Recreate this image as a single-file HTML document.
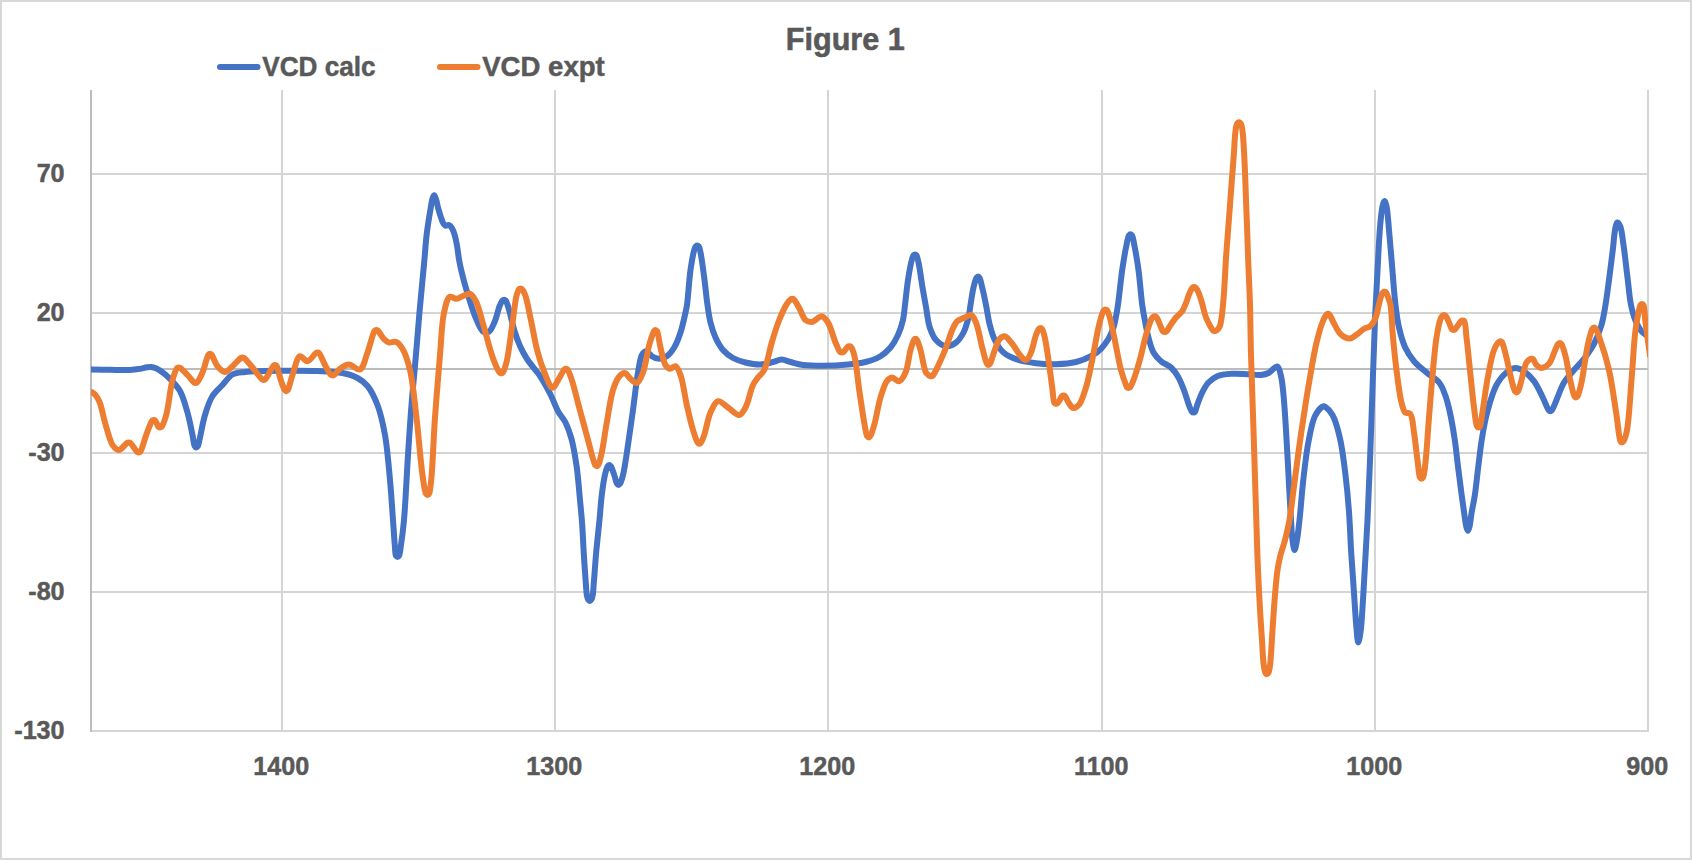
<!DOCTYPE html>
<html lang="en">
<head>
<meta charset="utf-8">
<title>Figure 1</title>
<style>
html,body{margin:0;padding:0;background:#fff;}
body{width:1692px;height:860px;overflow:hidden;position:relative;font-family:"Liberation Sans",sans-serif;}
#frame{position:absolute;left:0;top:0;width:1692px;height:860px;box-sizing:border-box;border:2px solid #d8d8d8;}
svg{position:absolute;left:0;top:0;display:block;}
svg text{font-family:"Liberation Sans",sans-serif;font-weight:bold;fill:#595959;}
</style>
</head>
<body>
<div id="frame"></div>
<svg width="1692" height="860" viewBox="0 0 1692 860">
<defs><clipPath id="plot"><rect x="91" y="80" width="1557" height="660"/></clipPath></defs>
<g stroke="#d5d5d5" stroke-width="2" fill="none" shape-rendering="crispEdges">
<line x1="282.00" y1="90" x2="282.00" y2="732" />
<line x1="555.00" y1="90" x2="555.00" y2="732" />
<line x1="828.00" y1="90" x2="828.00" y2="732" />
<line x1="1102.00" y1="90" x2="1102.00" y2="732" />
<line x1="1375.00" y1="90" x2="1375.00" y2="732" />
<line x1="1648.00" y1="90" x2="1648.00" y2="732" />
<line x1="90" y1="174.00" x2="1649" y2="174.00" />
<line x1="90" y1="313.00" x2="1649" y2="313.00" />
<line x1="90" y1="453.00" x2="1649" y2="453.00" />
<line x1="90" y1="592.00" x2="1649" y2="592.00" />
<line x1="90" y1="731.00" x2="1649" y2="731.00" />
</g>
<line x1="91" y1="90" x2="91" y2="732" stroke="#bcbcbc" stroke-width="2" shape-rendering="crispEdges"/>
<line x1="90" y1="369" x2="1648" y2="369" stroke="#bcbcbc" stroke-width="2" shape-rendering="crispEdges"/>
<g clip-path="url(#plot)" fill="none" stroke-width="6" stroke-linecap="round" stroke-linejoin="round">
<path stroke="#4472c4" d="M86.0 369.5C87.8 369.5 89.0 369.5 91.2 369.5C95.6 369.5 103.6 369.7 110.0 369.8C116.6 369.9 124.5 370.3 130.0 370.0C133.9 369.8 137.0 369.3 140.0 368.8C142.6 368.3 144.9 367.6 147.0 367.3C148.6 367.1 149.8 366.9 151.2 367.0C152.8 367.2 154.5 367.7 156.0 368.3C157.4 368.9 158.4 369.4 160.0 370.5C162.7 372.3 166.8 375.5 170.0 378.8C173.5 382.3 177.2 386.1 180.0 391.0C183.3 396.9 185.4 405.2 187.5 412.5C189.6 419.9 191.2 428.8 192.5 435.0C193.4 439.4 193.7 444.5 194.8 446.3C195.2 447.0 195.8 447.5 196.2 447.5C196.8 447.5 197.3 447.0 197.8 446.3C198.7 444.8 199.1 441.1 200.0 437.5C201.4 431.7 202.8 422.1 205.0 415.0C207.0 408.3 209.2 401.2 212.5 396.0C215.3 391.5 219.1 388.6 222.5 385.0C225.8 381.4 228.6 376.7 232.5 374.5C236.2 372.5 239.8 372.6 245.0 372.0C253.7 371.0 268.1 370.9 280.0 370.8C292.3 370.6 306.3 370.5 317.5 371.0C326.7 371.4 335.3 371.5 342.5 373.0C348.2 374.2 353.2 375.7 357.5 378.0C361.4 380.1 364.5 382.4 367.5 386.0C371.4 390.7 374.7 397.8 377.5 405.0C380.8 413.7 383.0 423.9 385.0 435.0C387.4 448.4 388.6 465.4 390.0 480.0C391.3 493.7 392.1 508.2 393.0 520.0C393.7 529.3 394.2 538.4 394.8 545.0C395.2 549.3 395.0 554.1 396.0 555.8C396.4 556.5 397.0 557.0 397.5 557.0C398.0 557.0 398.6 556.5 399.0 555.8C400.0 554.1 400.3 549.4 401.0 545.0C402.0 538.4 403.1 530.3 404.0 520.0C405.5 503.4 406.7 475.2 408.0 455.0C409.2 437.2 410.2 421.2 411.5 405.0C412.7 389.6 414.2 375.2 415.5 360.0C416.9 344.3 418.2 326.4 419.5 312.0C420.5 300.3 421.6 289.4 422.5 280.0C423.2 272.6 423.8 267.0 424.4 260.0C425.1 252.3 425.7 242.7 426.5 235.8C427.1 230.5 427.7 226.5 428.4 221.9C429.1 217.2 430.0 212.1 430.7 207.9C431.3 204.5 431.7 200.8 432.5 198.5C433.0 197.1 433.6 195.3 434.2 195.3C434.8 195.3 435.5 197.8 436.1 199.5C436.9 201.8 437.3 205.0 438.1 207.9C438.9 210.9 439.9 214.4 440.9 217.2C441.7 219.5 442.3 221.8 443.3 223.3C444.0 224.4 444.7 225.5 445.6 225.8C446.5 226.1 447.8 224.7 448.8 225.0C450.0 225.3 451.2 226.9 452.1 228.4C453.3 230.3 454.1 233.2 454.9 235.8C455.8 238.7 456.3 241.6 456.9 245.1C457.7 249.5 458.3 255.4 459.1 260.0C459.8 264.0 460.4 266.7 461.4 271.0C462.8 277.0 464.9 284.9 467.2 292.4C469.7 300.7 472.9 311.5 476.0 318.6C478.3 323.8 480.4 330.0 483.2 331.7C485.0 332.7 487.3 332.7 489.0 331.7C491.4 330.3 493.1 325.4 494.8 321.5C496.8 316.9 498.2 309.3 499.8 305.5C500.8 303.3 501.7 301.3 502.6 300.4C503.1 299.9 503.6 299.7 504.1 299.7C504.6 299.7 505.1 299.9 505.6 300.4C506.7 301.6 507.5 304.7 508.5 308.0C510.3 313.6 512.4 324.2 514.5 331.0C516.2 336.6 517.9 341.3 520.0 346.0C522.1 350.6 524.1 354.5 527.0 359.0C530.5 364.4 536.1 370.1 540.0 376.0C543.9 381.9 547.4 388.4 550.5 394.5C553.4 400.2 555.3 406.3 558.0 411.2C560.3 415.5 563.3 418.2 565.5 422.5C568.0 427.6 570.0 433.4 571.8 440.0C573.9 448.1 575.4 457.9 576.8 467.5C578.2 477.9 579.1 490.2 580.0 500.0C580.8 508.0 581.4 514.1 582.0 522.0C582.7 531.2 583.1 541.9 583.7 552.0C584.3 562.3 585.2 575.0 585.8 583.0C586.2 588.0 586.3 592.3 586.9 595.3C587.3 597.2 587.6 598.7 588.2 599.7C588.6 600.3 589.2 600.9 589.7 600.9C590.2 600.9 590.9 600.3 591.3 599.7C592.0 598.8 592.3 597.2 592.7 595.3C593.3 592.3 593.4 588.0 593.8 583.0C594.5 575.0 595.3 562.4 596.2 552.0C597.2 541.4 598.5 530.0 599.5 520.0C600.4 511.2 600.7 503.1 601.8 495.0C602.7 487.3 604.2 477.7 605.5 472.5C606.2 469.7 606.9 467.2 607.8 466.1C608.2 465.4 608.8 465.0 609.2 465.0C609.8 465.0 610.2 465.4 610.8 466.1C611.9 467.5 613.2 472.0 614.2 475.0C615.3 477.9 616.0 482.3 617.0 483.8C617.5 484.5 618.0 485.0 618.5 485.0C619.0 485.0 619.5 484.5 620.0 483.8C621.1 482.3 622.0 478.9 623.0 475.0C624.8 468.0 626.4 455.4 628.0 445.0C629.7 433.8 631.4 421.9 633.0 410.0C634.7 397.7 636.2 382.6 638.0 372.5C639.2 365.5 640.1 358.4 641.8 355.0C642.6 353.3 643.6 352.3 644.5 351.7C645.0 351.4 645.5 351.2 646.0 351.2C646.5 351.2 646.9 351.4 647.5 351.7C648.6 352.4 650.0 355.1 651.8 356.2C653.8 357.5 656.8 358.8 659.2 358.8C661.8 358.8 664.4 357.8 666.8 356.2C669.5 354.4 672.1 351.0 674.2 347.5C676.8 343.3 678.7 337.9 680.5 332.5C682.5 326.4 684.4 317.6 685.5 312.5C686.2 309.4 686.5 308.4 687.0 305.0C688.1 297.6 689.1 280.0 690.5 270.0C691.6 262.4 693.1 254.0 694.2 250.0C694.8 248.2 695.1 247.0 695.8 246.3C696.2 245.8 696.8 245.5 697.2 245.5C697.8 245.5 698.3 245.8 698.8 246.3C699.6 247.3 699.9 249.7 700.5 252.5C701.7 258.0 703.1 269.0 704.2 277.5C705.4 286.4 706.3 296.9 707.5 305.0C708.4 311.5 709.1 316.9 710.5 322.5C711.8 327.7 713.4 332.8 715.5 337.5C717.6 342.0 720.0 346.5 723.0 350.0C725.9 353.3 729.3 355.9 733.0 358.0C736.8 360.1 741.1 361.4 745.5 362.5C750.2 363.6 755.7 364.7 760.5 364.5C764.9 364.4 769.2 362.9 773.0 362.0C776.2 361.2 778.8 359.5 781.8 359.5C784.7 359.5 787.3 361.2 790.5 362.0C794.3 363.0 798.3 364.4 803.0 365.0C808.9 365.8 816.0 365.8 823.0 365.8C830.9 365.7 840.4 365.2 848.0 364.5C854.4 363.9 860.0 363.4 865.5 362.0C870.8 360.6 876.2 358.8 880.5 356.2C884.4 353.9 887.6 350.9 890.5 347.5C893.5 343.9 895.9 339.5 898.0 335.0C900.1 330.3 901.8 325.1 903.0 320.0C904.1 315.1 904.3 310.6 905.0 305.0C905.9 297.7 906.8 287.9 908.0 280.0C909.1 272.9 910.5 264.3 911.8 260.0C912.3 257.9 912.8 256.3 913.5 255.4C913.9 254.9 914.5 254.5 915.0 254.5C915.5 254.5 916.1 254.8 916.5 255.4C917.4 256.6 917.8 259.4 918.5 262.5C919.8 268.3 921.2 279.7 922.5 287.5C923.7 294.4 924.8 300.4 926.0 307.0C927.2 313.7 927.8 321.6 929.8 327.5C931.4 332.3 933.1 336.8 936.0 340.0C938.7 342.9 942.6 345.9 946.0 346.2C949.3 346.6 953.2 344.6 956.0 342.5C959.1 340.2 961.5 336.4 963.5 332.5C965.8 328.2 967.3 322.3 968.5 317.5C969.6 313.2 969.8 309.5 970.5 305.0C971.4 299.7 972.3 292.5 973.5 287.5C974.4 283.7 975.4 279.3 976.5 277.7C977.0 277.0 977.5 276.5 978.0 276.5C978.5 276.5 979.0 277.0 979.5 277.7C980.6 279.3 981.3 283.7 982.2 287.5C983.5 292.5 984.8 299.0 986.0 305.0C987.3 311.4 988.2 318.9 989.8 325.0C991.2 330.4 992.4 335.4 994.8 340.0C997.0 344.5 999.7 349.2 1003.5 352.5C1007.5 356.0 1013.2 358.2 1018.5 360.0C1024.0 361.8 1029.9 362.5 1036.0 363.2C1042.4 364.0 1049.3 364.5 1056.0 364.2C1062.7 364.0 1069.9 363.5 1076.0 362.0C1081.5 360.7 1086.6 358.7 1091.0 356.2C1094.8 354.1 1098.1 351.7 1101.0 348.8C1103.9 345.8 1106.4 342.3 1108.5 338.8C1110.6 335.2 1112.1 331.8 1113.5 327.5C1115.3 322.0 1116.2 315.6 1117.5 308.0C1119.2 297.5 1120.6 281.0 1122.2 270.0C1123.5 261.5 1124.7 253.8 1126.0 247.5C1127.0 242.8 1127.8 237.3 1129.0 235.4C1129.5 234.7 1130.0 234.2 1130.5 234.2C1131.0 234.2 1131.5 234.7 1132.0 235.4C1133.2 237.3 1133.8 242.8 1134.8 247.5C1136.0 253.8 1137.4 261.7 1138.5 270.0C1139.9 280.4 1141.0 295.8 1142.2 305.0C1143.1 311.1 1143.8 314.8 1144.8 320.0C1145.8 325.6 1147.0 331.9 1148.5 337.5C1149.9 342.7 1151.2 348.4 1153.5 352.5C1155.5 356.0 1158.1 358.8 1161.0 361.2C1163.9 363.8 1168.1 364.8 1171.0 367.5C1174.0 370.2 1176.3 373.7 1178.5 377.5C1181.0 381.9 1182.9 387.5 1184.8 392.5C1186.6 397.5 1188.3 404.1 1189.8 407.5C1190.6 409.4 1191.2 411.0 1192.0 411.8C1192.5 412.3 1193.0 412.5 1193.5 412.5C1194.0 412.5 1194.5 412.3 1195.0 411.8C1195.9 410.7 1196.3 407.6 1197.2 405.0C1198.5 401.4 1200.3 396.4 1202.2 392.5C1204.1 388.9 1205.9 385.2 1208.5 382.5C1211.0 379.9 1213.8 377.7 1217.2 376.2C1221.2 374.6 1226.1 374.1 1231.0 373.8C1236.5 373.3 1243.2 374.0 1248.5 374.2C1253.0 374.5 1257.4 375.4 1261.0 375.0C1263.8 374.7 1266.4 374.1 1268.5 373.0C1270.5 372.0 1271.9 369.9 1273.5 368.8C1274.9 367.8 1276.4 366.1 1277.5 366.5C1279.2 367.1 1280.1 372.2 1281.0 376.0C1282.3 381.2 1282.8 387.7 1283.5 395.0C1284.5 404.9 1285.2 417.6 1286.0 430.0C1286.9 444.1 1287.7 460.0 1288.5 475.0C1289.3 490.0 1290.2 508.0 1291.0 520.0C1291.5 528.0 1291.7 534.5 1292.5 540.0C1293.0 543.9 1293.8 550.0 1294.5 550.0C1295.3 550.0 1296.3 543.9 1297.0 540.0C1298.0 534.5 1298.6 527.9 1299.5 520.0C1300.8 508.6 1301.9 491.6 1303.5 478.0C1305.0 465.0 1306.5 451.2 1308.8 440.0C1310.5 431.0 1312.1 421.9 1315.0 416.0C1317.0 411.9 1320.6 407.9 1322.2 406.8C1322.9 406.3 1323.2 406.2 1323.8 406.2C1324.2 406.2 1324.6 406.4 1325.2 406.8C1326.9 407.9 1330.4 411.3 1332.5 415.0C1335.7 420.6 1338.0 429.7 1340.0 438.5C1342.5 449.2 1344.0 462.8 1345.5 475.0C1347.0 487.3 1348.1 499.4 1349.0 512.0C1350.0 525.2 1350.4 539.3 1351.2 552.5C1352.0 565.2 1352.9 577.7 1353.8 590.0C1354.6 601.9 1355.4 615.3 1356.2 625.0C1356.9 631.8 1357.4 642.5 1358.2 642.5C1359.0 642.5 1360.1 635.1 1360.8 630.0C1361.8 622.2 1362.3 610.4 1363.0 600.0C1363.7 588.8 1364.3 577.4 1365.0 565.0C1365.8 550.9 1366.7 536.4 1367.5 520.0C1368.5 500.3 1369.4 477.4 1370.2 455.0C1371.2 430.9 1371.9 404.1 1372.8 380.0C1373.6 357.6 1374.4 335.2 1375.2 315.0C1376.0 297.2 1376.9 280.7 1377.8 265.0C1378.5 250.9 1379.2 236.0 1380.2 225.0C1381.0 217.2 1381.6 209.1 1382.8 205.0C1383.3 203.1 1383.9 201.0 1384.5 201.0C1385.2 201.0 1385.9 203.8 1386.5 206.2C1387.7 211.3 1388.2 221.3 1389.0 230.0C1390.0 240.5 1391.0 252.9 1392.0 265.0C1393.1 277.9 1394.1 293.6 1395.5 305.0C1396.5 313.6 1397.3 320.3 1399.0 327.5C1400.6 334.4 1402.5 341.6 1405.2 347.5C1407.7 352.7 1410.5 357.1 1414.0 361.2C1417.6 365.5 1422.2 368.9 1426.5 372.5C1430.7 376.1 1436.3 378.9 1439.5 383.0C1442.5 386.8 1443.8 391.4 1445.5 396.0C1447.3 400.9 1448.4 405.5 1449.7 411.5C1451.5 419.4 1453.3 430.1 1454.7 439.4C1456.1 448.7 1456.9 458.0 1458.1 467.3C1459.3 476.6 1460.6 486.9 1461.7 495.3C1462.6 502.2 1463.5 508.4 1464.3 514.0C1465.0 518.5 1465.4 523.3 1466.2 526.3C1466.7 528.2 1467.3 530.8 1467.9 530.8C1468.5 530.8 1469.1 528.2 1469.6 526.3C1470.4 523.3 1470.7 518.5 1471.4 514.0C1472.3 508.4 1473.8 502.2 1474.8 495.3C1476.1 486.9 1477.0 476.6 1478.2 467.3C1479.4 458.0 1480.3 448.7 1481.8 439.4C1483.3 430.1 1484.9 420.6 1487.4 411.5C1489.8 402.5 1492.7 391.9 1496.5 385.0C1499.4 379.8 1502.9 375.4 1506.5 372.5C1509.3 370.2 1512.3 368.2 1515.2 368.0C1518.1 367.8 1521.2 369.4 1524.0 371.2C1527.5 373.5 1531.0 377.3 1534.0 381.2C1537.4 385.8 1540.2 392.4 1542.8 397.5C1545.0 402.0 1547.2 408.5 1548.8 410.3C1549.3 410.9 1549.8 411.2 1550.2 411.2C1550.8 411.2 1551.2 410.9 1551.8 410.3C1553.1 408.8 1554.8 403.9 1556.5 400.0C1558.7 394.9 1560.9 387.7 1564.0 382.5C1566.8 377.8 1570.6 374.0 1574.0 370.0C1577.3 366.1 1580.8 362.9 1584.0 358.8C1587.5 354.2 1591.1 349.2 1594.0 343.8C1597.0 338.0 1599.6 331.4 1601.5 325.0C1603.4 318.5 1604.3 312.1 1605.5 305.0C1606.8 297.1 1607.8 288.7 1609.0 280.0C1610.3 270.5 1611.6 259.1 1612.8 250.0C1613.7 242.3 1614.2 233.7 1615.2 228.8C1615.8 226.0 1616.3 222.7 1617.2 222.5C1618.1 222.4 1619.4 224.4 1620.2 226.2C1621.9 230.0 1622.4 237.8 1623.5 245.0C1625.0 254.8 1626.4 269.3 1627.8 280.0C1628.9 289.0 1629.5 297.8 1631.0 305.0C1632.2 310.7 1633.4 315.5 1635.2 320.0C1637.0 324.1 1639.0 328.4 1641.5 331.2C1643.5 333.5 1646.2 334.9 1648.2 336.2C1649.9 337.4 1651.4 338.1 1653.0 339.0"/>
<path stroke="#ed7d31" d="M88.0 391.0C90.0 391.8 92.2 392.0 94.0 393.5C96.2 395.3 97.9 398.4 99.5 402.0C101.8 407.2 102.9 415.5 105.0 422.5C107.2 429.9 109.7 440.5 112.5 445.0C114.0 447.4 116.0 448.9 117.2 449.6C117.8 449.9 118.2 450.0 118.8 450.0C119.2 450.0 119.6 450.0 120.2 449.6C121.8 448.7 125.7 443.8 127.2 442.9C127.9 442.5 128.2 442.5 128.8 442.5C129.2 442.5 129.7 442.5 130.2 442.9C131.9 444.0 135.6 450.8 137.2 452.0C137.9 452.4 138.2 452.5 138.8 452.5C139.2 452.5 139.7 452.5 140.2 452.0C142.0 450.2 144.2 440.4 146.2 435.0C148.2 430.0 150.6 422.3 152.2 420.6C152.8 420.1 153.2 420.0 153.8 420.0C154.2 420.0 154.7 420.2 155.2 420.6C156.3 421.6 157.4 425.9 158.5 426.9C159.0 427.3 159.5 427.5 160.0 427.5C160.5 427.5 161.0 427.4 161.5 426.9C162.9 425.4 164.8 420.1 166.2 415.0C168.7 406.5 170.1 388.5 172.5 380.0C174.0 374.8 175.8 369.3 177.2 367.9C177.8 367.5 178.2 367.5 178.8 367.5C179.2 367.5 179.6 367.6 180.2 367.9C181.8 368.9 185.2 372.6 187.5 375.0C189.8 377.4 192.5 381.5 194.0 382.5C194.6 382.9 195.0 383.0 195.5 383.0C196.0 383.0 196.4 382.9 197.0 382.5C198.5 381.2 200.8 376.4 202.5 372.5C204.7 367.5 206.8 356.7 208.5 354.6C209.0 354.0 209.5 353.8 210.0 353.8C210.5 353.8 210.9 354.0 211.5 354.6C213.0 356.2 215.2 363.3 217.5 366.2C219.3 368.6 222.1 370.8 223.5 371.6C224.1 371.9 224.5 372.0 225.0 372.0C225.5 372.0 225.9 371.9 226.5 371.6C228.1 370.7 231.4 367.3 233.8 365.0C236.2 362.7 239.4 358.9 241.0 357.9C241.6 357.6 242.0 357.5 242.5 357.5C243.0 357.5 243.4 357.6 244.0 357.9C245.8 359.1 249.6 364.1 252.5 367.5C255.7 371.2 260.3 378.0 262.2 379.4C262.9 379.9 263.2 380.0 263.8 380.0C264.2 380.0 264.7 379.9 265.2 379.4C267.1 377.9 271.7 367.4 273.5 365.7C274.1 365.2 274.5 365.0 275.0 365.0C275.5 365.0 276.0 365.1 276.5 365.7C277.8 367.2 278.7 373.5 280.0 377.5C281.4 381.7 283.3 388.2 284.8 390.1C285.3 390.8 285.8 391.2 286.2 391.2C286.8 391.2 287.2 390.8 287.8 390.1C289.2 388.0 290.6 380.3 292.5 375.0C294.6 369.1 296.8 357.3 300.0 356.2C302.2 355.6 305.0 361.5 307.5 361.2C310.4 361.0 314.2 354.0 316.0 353.0C316.6 352.6 317.0 352.5 317.5 352.5C318.0 352.5 318.5 352.5 319.0 353.0C320.6 354.3 322.9 361.2 325.0 365.0C326.9 368.5 329.5 373.8 331.0 375.0C331.6 375.5 332.0 375.5 332.5 375.5C333.0 375.5 333.4 375.4 334.0 375.0C335.4 374.1 337.6 370.5 340.0 368.8C342.5 366.9 345.6 364.6 348.8 364.5C352.3 364.4 357.0 370.7 360.0 369.5C363.7 368.1 365.2 358.6 367.5 352.5C370.1 345.7 372.8 332.8 374.8 330.6C375.3 330.0 375.8 330.0 376.2 330.0C376.8 330.0 377.2 330.2 377.8 330.6C379.2 331.8 381.7 336.7 383.8 338.8C385.4 340.4 386.8 341.9 388.8 342.5C390.9 343.1 394.0 341.1 396.2 342.0C398.7 343.0 400.6 345.6 402.5 348.8C405.5 353.7 407.9 361.5 410.0 370.0C412.9 382.1 414.3 398.9 416.2 415.0C418.5 433.5 420.4 460.7 422.5 475.0C423.7 483.1 424.5 491.3 426.0 493.8C426.5 494.6 427.0 495.0 427.5 495.0C428.0 495.0 428.6 494.6 429.0 493.8C430.2 491.8 430.6 486.3 431.2 480.0C432.7 466.7 433.5 438.3 435.0 417.5C436.5 396.7 438.4 373.8 440.0 355.0C441.4 339.6 441.6 323.4 444.0 312.8C445.5 306.1 447.0 298.2 449.8 296.8C451.6 295.9 454.0 298.9 456.2 298.8C458.8 298.7 461.8 296.1 464.3 295.3C466.4 294.6 468.3 293.3 470.1 293.9C472.3 294.7 474.1 297.9 475.9 301.2C478.8 306.6 480.8 316.4 483.2 324.4C485.7 332.8 488.1 343.0 490.5 350.6C492.4 356.6 494.5 362.6 496.3 366.6C497.5 369.1 498.6 371.6 499.7 372.6C500.2 373.1 500.7 373.3 501.2 373.3C501.7 373.3 502.2 373.1 502.7 372.6C504.0 371.2 505.3 366.8 506.5 362.2C508.7 353.6 510.5 336.2 512.3 324.4C513.9 314.1 515.0 301.3 516.6 295.3C517.4 292.5 518.1 290.2 519.0 289.2C519.5 288.7 520.0 288.5 520.5 288.5C521.0 288.5 521.5 288.7 522.0 289.2C523.0 290.2 524.2 292.5 525.3 295.3C527.4 300.9 529.2 312.5 531.2 321.5C533.3 331.2 535.0 342.3 537.5 351.5C539.6 359.5 542.2 367.1 544.8 373.5C546.8 378.6 549.4 385.3 551.0 387.0C551.6 387.5 552.0 387.7 552.5 387.7C553.0 387.7 553.4 387.5 554.0 387.0C555.3 385.7 557.3 381.4 559.0 378.5C560.8 375.5 563.1 370.7 564.5 369.4C565.1 368.9 565.5 368.7 566.0 368.7C566.5 368.7 567.0 368.9 567.5 369.4C568.8 370.9 570.3 375.6 571.8 380.0C574.1 387.0 576.7 397.9 579.2 407.5C582.1 417.9 585.2 429.9 588.0 440.0C590.5 448.9 593.3 462.1 595.2 465.1C595.8 465.8 596.2 466.2 596.8 466.2C597.2 466.2 597.8 465.8 598.2 465.1C599.5 463.1 600.6 457.6 601.8 452.5C603.5 444.7 604.9 432.7 606.8 422.5C608.7 411.9 610.4 398.2 613.0 390.0C614.6 384.7 616.5 380.4 618.5 377.5C619.8 375.6 621.6 374.0 622.8 373.4C623.3 373.1 623.8 373.0 624.2 373.0C624.8 373.0 625.2 373.1 625.8 373.4C627.0 374.2 628.7 377.2 630.5 378.8C632.4 380.4 634.9 383.4 636.8 383.0C639.1 382.5 641.2 377.0 643.0 372.5C645.7 365.7 647.1 352.6 649.2 345.0C650.8 339.6 652.6 333.2 654.0 331.2C654.5 330.5 655.0 330.0 655.5 330.0C656.0 330.0 656.5 330.4 657.0 331.2C658.4 333.5 659.1 342.0 660.5 347.5C661.9 353.3 663.2 361.5 665.5 365.0C666.8 367.0 668.3 368.5 670.0 368.8C671.7 369.0 673.9 365.7 675.5 366.2C677.6 366.9 679.0 371.1 680.5 375.0C683.1 381.9 684.6 395.5 686.8 405.0C688.8 413.7 690.9 423.1 693.0 430.0C694.6 435.0 696.3 441.1 697.8 442.8C698.3 443.5 698.8 443.8 699.2 443.8C699.8 443.8 700.2 443.4 700.8 442.8C701.9 441.6 703.0 438.3 704.2 435.0C706.2 429.5 707.7 418.5 710.5 412.5C712.6 407.9 714.9 401.9 718.0 401.2C720.9 400.6 724.6 405.3 728.0 407.5C731.7 409.9 736.2 415.4 739.2 415.0C741.8 414.6 743.6 410.9 745.5 407.5C748.5 402.2 750.4 390.4 753.0 385.0C754.6 381.7 756.2 380.0 758.0 377.5C759.9 374.9 762.4 373.6 764.2 370.0C767.4 363.9 769.1 351.2 771.8 342.5C774.1 334.6 776.5 326.8 779.2 320.0C781.6 314.1 784.4 307.7 786.8 304.0C788.1 301.8 789.6 300.0 790.8 299.3C791.3 298.9 791.8 298.8 792.2 298.8C792.8 298.8 793.2 298.8 793.8 299.3C795.2 300.4 797.4 304.8 799.2 308.0C801.3 311.6 802.9 317.8 805.5 320.0C807.3 321.5 809.5 322.2 811.8 322.0C814.8 321.7 818.9 315.9 821.8 316.2C824.2 316.6 826.1 319.6 828.0 322.5C830.9 327.1 833.2 337.1 835.5 342.5C837.2 346.3 838.9 350.9 840.2 352.1C840.8 352.5 841.2 352.5 841.8 352.5C842.2 352.5 842.7 352.4 843.2 352.1C844.5 351.3 846.5 347.5 847.8 346.7C848.3 346.3 848.8 346.2 849.2 346.2C849.8 346.2 850.3 346.2 850.8 346.7C851.9 347.7 853.2 351.2 854.2 355.0C856.3 362.6 857.6 378.6 859.2 390.0C860.9 401.0 862.7 414.0 864.2 422.5C865.3 428.1 866.0 434.3 867.2 436.3C867.7 437.1 868.2 437.5 868.8 437.5C869.2 437.5 869.7 437.0 870.2 436.3C871.5 434.5 872.9 429.6 874.2 425.0C876.3 417.9 878.1 405.4 880.5 397.5C882.4 391.3 884.2 384.6 886.8 381.2C888.3 379.3 889.9 377.7 891.8 377.5C893.9 377.3 897.1 381.8 899.2 381.2C901.7 380.6 903.8 376.3 905.5 372.5C908.0 366.9 908.8 356.0 910.5 350.0C911.7 345.9 912.8 341.6 914.0 339.9C914.5 339.2 915.0 338.8 915.5 338.8C916.0 338.8 916.5 339.2 917.0 339.9C918.2 341.6 919.3 345.9 920.5 350.0C922.3 356.0 923.7 368.5 926.0 372.5C927.1 374.3 928.5 375.3 929.5 375.9C930.1 376.2 930.5 376.2 931.0 376.2C931.5 376.2 931.9 376.3 932.5 375.9C934.1 374.6 936.5 369.1 938.5 365.0C941.0 359.9 943.7 353.4 946.0 347.5C948.3 341.7 950.1 334.8 952.2 330.0C953.9 326.5 955.0 323.4 957.2 321.2C959.3 319.3 962.3 318.6 964.8 317.5C966.9 316.5 969.2 314.4 971.0 315.0C973.1 315.6 974.5 319.1 976.0 322.5C978.5 328.3 980.2 340.1 982.2 347.5C983.9 353.5 985.5 361.5 987.0 363.8C987.5 364.6 988.0 365.0 988.5 365.0C989.0 365.0 989.5 364.5 990.0 363.8C991.4 361.8 993.0 354.3 994.8 350.0C996.3 346.0 997.6 341.0 999.8 338.8C1001.2 337.2 1003.0 336.0 1004.8 336.2C1007.1 336.6 1009.9 340.9 1012.2 343.8C1014.9 347.0 1017.5 352.2 1019.8 355.0C1021.3 356.9 1022.9 358.8 1024.0 359.5C1024.6 359.9 1025.0 360.0 1025.5 360.0C1026.0 360.0 1026.5 360.0 1027.0 359.5C1028.2 358.6 1029.8 355.5 1031.0 352.5C1032.9 348.1 1034.4 339.3 1036.0 335.0C1037.0 332.4 1038.0 329.9 1039.0 328.8C1039.5 328.3 1040.0 328.0 1040.5 328.0C1041.0 328.0 1041.5 328.2 1042.0 328.8C1043.1 330.1 1043.9 333.9 1044.8 337.5C1046.1 343.2 1047.3 352.1 1048.5 360.0C1049.8 368.7 1051.1 379.6 1052.2 387.5C1053.1 393.5 1053.1 401.5 1054.5 403.2C1054.9 403.8 1055.5 403.8 1056.0 403.8C1056.5 403.8 1057.0 403.6 1057.5 403.2C1058.3 402.6 1059.0 401.1 1059.8 400.0C1060.5 398.8 1061.2 396.8 1062.0 396.1C1062.5 395.7 1063.0 395.5 1063.5 395.5C1064.0 395.5 1064.5 395.7 1065.0 396.1C1066.1 397.1 1067.2 400.5 1068.5 402.5C1069.7 404.4 1071.4 406.9 1072.5 407.6C1073.0 408.0 1073.5 408.0 1074.0 408.0C1074.5 408.0 1074.9 407.9 1075.5 407.6C1076.6 407.0 1078.4 405.7 1079.8 403.8C1082.1 400.4 1084.1 393.7 1086.0 387.5C1088.4 379.6 1090.2 369.6 1092.2 360.0C1094.4 349.6 1096.5 336.0 1098.5 327.5C1099.8 321.9 1101.1 316.8 1102.2 313.8C1102.9 312.1 1103.3 310.9 1104.0 310.2C1104.5 309.7 1105.0 309.5 1105.5 309.5C1106.0 309.5 1106.5 309.7 1107.0 310.2C1108.0 311.3 1108.8 314.4 1109.8 317.5C1111.4 322.9 1113.0 332.0 1114.8 340.0C1116.7 349.3 1118.8 361.8 1121.0 370.0C1122.6 375.9 1124.9 382.2 1126.0 385.0C1126.4 386.1 1126.5 386.9 1127.0 387.4C1127.4 387.8 1128.0 388.0 1128.5 388.0C1129.0 388.0 1129.5 387.9 1130.0 387.4C1131.1 386.3 1132.3 383.1 1133.5 380.0C1135.5 375.0 1137.8 367.1 1139.8 360.0C1142.0 352.2 1143.9 342.2 1146.0 335.0C1147.7 329.3 1149.4 323.1 1151.0 320.0C1151.8 318.5 1152.5 317.4 1153.2 316.8C1153.7 316.4 1154.2 316.2 1154.8 316.2C1155.2 316.2 1155.8 316.4 1156.2 316.8C1157.1 317.5 1157.7 319.5 1158.5 321.2C1159.6 323.7 1161.3 328.3 1162.2 330.0C1162.7 330.8 1162.8 331.2 1163.2 331.6C1163.7 331.9 1164.2 332.0 1164.8 332.0C1165.2 332.0 1165.7 332.0 1166.2 331.6C1167.3 330.8 1168.4 328.2 1169.8 326.2C1171.5 323.7 1173.8 320.1 1176.0 317.5C1178.0 315.1 1180.6 313.6 1182.2 311.2C1183.9 308.8 1184.8 305.9 1186.0 303.0C1187.3 299.7 1188.5 295.3 1189.8 292.5C1190.7 290.5 1191.6 288.5 1192.5 287.6C1193.0 287.2 1193.5 287.0 1194.0 287.0C1194.5 287.0 1195.0 287.2 1195.5 287.6C1196.5 288.5 1197.6 290.5 1198.5 292.5C1199.8 295.3 1200.8 299.2 1202.0 303.0C1203.3 307.4 1204.3 313.2 1206.0 317.5C1207.4 321.2 1209.6 325.1 1211.0 327.5C1211.8 328.9 1212.5 330.1 1213.2 330.7C1213.7 331.1 1214.2 331.2 1214.8 331.2C1215.2 331.2 1215.7 331.1 1216.2 330.7C1217.3 330.0 1218.8 328.5 1219.8 326.2C1221.6 321.9 1222.1 313.6 1223.0 305.0C1224.4 291.9 1225.1 271.7 1226.2 255.0C1227.4 238.3 1228.8 221.7 1230.0 205.0C1231.2 188.3 1232.8 168.5 1233.8 155.0C1234.4 145.9 1234.7 137.6 1235.4 132.0C1235.8 128.7 1236.0 125.8 1236.9 124.2C1237.4 123.2 1238.3 122.3 1239.0 122.3C1239.7 122.3 1240.6 123.2 1241.1 124.2C1242.0 125.7 1242.1 128.0 1242.5 131.0C1243.3 136.5 1243.7 145.5 1244.2 155.0C1245.0 168.6 1245.6 188.3 1246.2 205.0C1246.9 221.7 1247.4 238.3 1248.0 255.0C1248.6 271.7 1249.5 288.3 1250.0 305.0C1250.5 321.7 1250.5 336.7 1251.0 355.0C1251.6 377.5 1252.7 404.6 1253.5 430.0C1254.3 456.2 1255.3 486.8 1256.0 510.0C1256.6 527.9 1256.9 542.1 1257.5 557.5C1258.1 572.1 1258.7 586.1 1259.5 600.0C1260.2 613.5 1261.2 628.4 1262.0 640.0C1262.6 649.0 1262.8 658.1 1263.6 664.0C1264.1 667.5 1264.3 670.6 1265.2 672.3C1265.7 673.3 1266.4 674.2 1267.0 674.2C1267.6 674.2 1268.2 673.2 1268.7 672.3C1269.5 670.6 1269.7 667.7 1270.2 664.0C1271.1 656.5 1271.7 641.4 1272.5 630.0C1273.3 618.4 1274.1 605.7 1275.0 595.0C1275.8 586.0 1276.4 577.3 1277.5 570.0C1278.3 564.3 1279.3 560.0 1280.5 555.0C1281.8 550.0 1283.6 545.4 1285.0 540.0C1286.6 533.8 1288.2 527.4 1289.5 520.0C1291.1 511.0 1292.1 500.6 1293.5 490.0C1295.1 478.1 1296.8 464.4 1298.5 452.0C1300.1 440.2 1301.7 429.3 1303.5 417.5C1305.4 404.9 1307.6 391.0 1309.8 378.5C1311.8 366.9 1313.7 354.9 1316.0 345.0C1317.9 336.8 1320.1 328.5 1322.2 323.0C1323.6 319.5 1325.3 315.9 1326.5 314.6C1327.0 314.0 1327.5 313.8 1328.0 313.8C1328.5 313.8 1329.0 314.0 1329.5 314.6C1330.7 315.8 1331.9 319.6 1333.5 322.5C1335.5 326.0 1337.5 331.3 1340.5 334.0C1343.1 336.4 1347.0 338.7 1350.0 338.5C1352.8 338.4 1355.4 335.4 1357.8 333.8C1360.0 332.2 1361.8 330.0 1364.0 328.8C1366.0 327.6 1368.5 327.7 1370.2 326.2C1372.3 324.6 1373.9 321.8 1375.2 318.8C1377.0 314.8 1377.9 308.3 1379.0 304.0C1379.9 300.6 1380.6 297.1 1381.5 295.0C1382.0 293.8 1382.4 292.8 1383.0 292.3C1383.4 291.9 1384.0 291.8 1384.5 291.8C1385.0 291.8 1385.5 291.9 1386.0 292.3C1386.8 293.1 1387.3 295.2 1388.0 297.0C1388.8 299.3 1389.8 301.4 1390.5 305.0C1391.8 311.8 1391.8 324.6 1392.8 335.0C1393.8 346.2 1395.0 358.6 1396.5 370.0C1397.9 381.1 1399.5 394.8 1401.5 402.5C1402.6 406.9 1403.3 410.8 1405.2 412.5C1406.6 413.7 1408.9 412.4 1410.2 413.8C1412.8 416.4 1412.9 425.5 1414.0 432.5C1415.4 441.3 1416.6 454.2 1417.8 462.5C1418.6 468.4 1418.8 475.4 1420.0 477.6C1420.4 478.3 1421.0 478.8 1421.5 478.8C1422.0 478.8 1422.6 478.3 1423.0 477.6C1424.1 475.6 1424.5 470.5 1425.2 465.0C1426.6 454.3 1427.7 433.1 1429.0 417.5C1430.2 402.3 1431.4 386.6 1432.8 372.5C1433.9 360.1 1435.0 347.1 1436.5 337.5C1437.6 330.6 1438.9 323.8 1440.2 320.0C1441.0 318.0 1441.7 316.5 1442.5 315.7C1443.0 315.2 1443.5 315.0 1444.0 315.0C1444.5 315.0 1445.0 315.2 1445.5 315.7C1446.6 316.8 1447.9 320.2 1449.0 322.5C1450.1 324.8 1450.9 328.4 1452.0 329.4C1452.5 329.9 1453.0 330.0 1453.5 330.0C1454.0 330.0 1454.5 329.8 1455.0 329.4C1456.1 328.5 1457.8 325.3 1459.0 323.8C1459.8 322.6 1460.5 321.5 1461.2 321.0C1461.7 320.6 1462.2 320.5 1462.8 320.5C1463.2 320.5 1463.8 320.4 1464.2 321.0C1465.7 322.6 1465.7 331.0 1466.5 337.5C1467.7 347.0 1469.0 360.8 1470.2 372.5C1471.5 384.2 1472.7 397.6 1474.0 407.5C1475.0 414.7 1475.6 423.8 1477.0 426.3C1477.5 427.1 1478.0 427.5 1478.5 427.5C1479.0 427.5 1479.5 427.1 1480.0 426.3C1481.3 424.0 1481.7 416.4 1482.8 410.0C1484.2 401.0 1485.8 387.8 1487.8 377.5C1489.6 367.9 1491.5 356.3 1494.0 350.0C1495.4 346.4 1497.4 343.2 1498.8 342.0C1499.3 341.5 1499.8 341.2 1500.2 341.2C1500.8 341.2 1501.3 341.4 1501.8 342.0C1503.0 343.4 1504.0 348.1 1505.2 352.5C1507.2 359.5 1509.6 372.9 1511.5 380.0C1512.7 384.6 1513.8 389.5 1515.0 391.3C1515.5 392.0 1516.0 392.5 1516.5 392.5C1517.0 392.5 1517.5 392.0 1518.0 391.3C1519.2 389.5 1520.3 384.2 1521.5 380.0C1523.0 374.8 1524.4 365.9 1526.5 362.5C1527.6 360.7 1529.0 359.7 1530.0 359.1C1530.6 358.8 1531.0 358.8 1531.5 358.8C1532.0 358.8 1532.5 358.8 1533.0 359.1C1534.1 360.0 1535.0 363.5 1536.5 365.0C1537.9 366.4 1539.7 368.0 1541.5 368.0C1543.7 368.0 1546.9 366.0 1549.0 363.8C1551.8 360.7 1553.5 353.7 1555.2 350.0C1556.4 347.5 1557.2 344.9 1558.2 343.8C1558.7 343.3 1559.2 343.0 1559.8 343.0C1560.2 343.0 1560.7 343.2 1561.2 343.8C1562.6 345.4 1564.0 350.5 1565.2 355.0C1567.1 361.6 1568.5 372.6 1570.2 380.0C1571.6 386.0 1573.0 394.0 1574.5 396.3C1575.0 397.1 1575.5 397.5 1576.0 397.5C1576.5 397.5 1577.0 397.0 1577.5 396.3C1578.9 394.3 1580.2 388.3 1581.5 382.5C1583.6 373.1 1585.5 354.9 1587.8 345.0C1589.3 338.3 1591.0 330.7 1592.5 328.6C1593.0 327.8 1593.5 327.5 1594.0 327.5C1594.5 327.5 1595.0 327.9 1595.5 328.6C1596.9 330.3 1598.6 335.2 1600.2 340.0C1602.9 347.6 1606.5 358.9 1609.0 370.0C1612.1 383.4 1614.4 402.0 1616.5 415.0C1618.1 424.9 1618.8 438.3 1620.5 441.3C1621.0 442.1 1621.5 442.5 1622.0 442.5C1622.5 442.5 1623.0 442.0 1623.5 441.3C1624.7 439.5 1626.0 435.2 1627.0 430.0C1629.1 419.3 1630.1 396.5 1631.5 380.0C1632.9 364.0 1633.7 345.4 1635.2 332.5C1636.3 323.6 1637.9 314.8 1639.0 310.0C1639.5 307.7 1639.8 306.0 1640.5 305.1C1640.9 304.5 1641.5 304.0 1642.0 304.0C1642.5 304.0 1643.1 304.3 1643.5 305.1C1644.7 307.1 1644.6 314.5 1645.2 320.0C1646.1 326.7 1647.4 336.0 1648.2 342.5C1648.9 347.4 1649.4 351.2 1650.0 355.5"/>
</g>
<g font-size="26.2" stroke="#595959" stroke-width="0.5">
<text transform="translate(281.3 775.2) scale(0.96 1)" text-anchor="middle">1400</text>
<text transform="translate(554.3 775.2) scale(0.96 1)" text-anchor="middle">1300</text>
<text transform="translate(827.3 775.2) scale(0.96 1)" text-anchor="middle">1200</text>
<text transform="translate(1101.3 775.2) scale(0.96 1)" text-anchor="middle">1100</text>
<text transform="translate(1374.3 775.2) scale(0.96 1)" text-anchor="middle">1000</text>
<text transform="translate(1647.3 775.2) scale(0.96 1)" text-anchor="middle">900</text>
<text transform="translate(64.6 182.0) scale(0.96 1)" text-anchor="end">70</text>
<text transform="translate(64.6 321.0) scale(0.96 1)" text-anchor="end">20</text>
<text transform="translate(64.6 461.0) scale(0.96 1)" text-anchor="end">-30</text>
<text transform="translate(64.6 600.0) scale(0.96 1)" text-anchor="end">-80</text>
<text transform="translate(64.6 739.0) scale(0.96 1)" text-anchor="end">-130</text>
</g>
<text x="785.8" y="49.9" font-size="32.2" textLength="119" lengthAdjust="spacingAndGlyphs" stroke="#595959" stroke-width="0.6">Figure 1</text>
<line x1="220" y1="67" x2="257.5" y2="67" stroke="#4472c4" stroke-width="6" stroke-linecap="round"/>
<text x="262.2" y="75.9" font-size="28.3" textLength="113.5" lengthAdjust="spacingAndGlyphs" stroke="#595959" stroke-width="0.5">VCD calc</text>
<line x1="440" y1="67" x2="477.5" y2="67" stroke="#ed7d31" stroke-width="6" stroke-linecap="round"/>
<text x="482.2" y="75.9" font-size="28.3" textLength="122.6" lengthAdjust="spacingAndGlyphs" stroke="#595959" stroke-width="0.5">VCD expt</text>
</svg>
</body>
</html>
